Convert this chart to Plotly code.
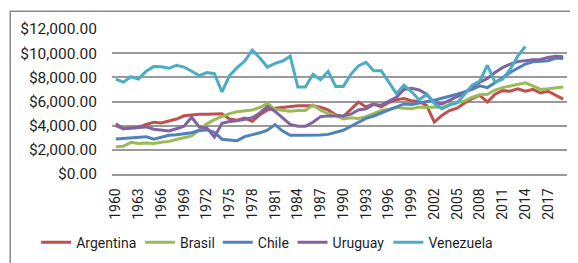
import plotly.graph_objects as go

years = list(range(1960, 2020))

argentina = [4010, 3740, 3800, 3850, 4100, 4290, 4230, 4360, 4550, 4820,
             4900, 4950, 4950, 4950, 4980, 4550, 4450, 4630, 4360, 4900,
             5300, 5450, 5530, 5600, 5640, 5640, 5650, 5530, 5300, 4900,
             4750, 5350, 5950, 5550, 5800, 5550, 5920, 6150, 6250, 6070,
             6000, 5660, 4300, 4850, 5250, 5450, 5880, 6230, 6500, 5960,
             6600, 6900, 6850, 7050, 6850, 7000, 6700, 6850, 6550, 6200]

brasil = [2250, 2300, 2620, 2520, 2560, 2520, 2620, 2700, 2850, 3000,
          3150, 3650, 4150, 4500, 4720, 5000, 5150, 5230, 5300, 5500,
          5850, 5350, 5300, 5200, 5250, 5250, 5700, 5280, 5000, 4850,
          4550, 4650, 4600, 4750, 5000, 5250, 5350, 5500, 5450, 5400,
          5550, 5500, 5550, 5500, 5750, 5900, 6050, 6350, 6550, 6600,
          6950, 7150, 7280, 7450, 7550, 7300, 7000, 7050, 7150, 7200]

chile = [2900, 2960, 3000, 3060, 3090, 2880, 3060, 3200, 3250, 3330,
         3410, 3600, 3650, 3450, 2880, 2820, 2760, 3090, 3220, 3410,
         3630, 4090, 3550, 3200, 3200, 3200, 3200, 3220, 3280, 3470,
         3620, 3950, 4300, 4600, 4800, 5050, 5250, 5550, 5800, 5750,
         5900, 6000, 6100, 6250, 6450, 6600, 6800, 7000, 7300, 7150,
         7550, 8000, 8400, 8750, 9100, 9280, 9320, 9380, 9600, 9550]

uruguay = [4150, 3750, 3800, 3830, 3900, 3700, 3650, 3560, 3750, 3950,
           4700, 3900, 3820, 3050, 4200, 4350, 4400, 4500, 4650, 5050,
           5600, 5180, 4630, 4100, 3950, 3950, 4280, 4750, 4800, 4800,
           4800, 4950, 5300, 5400, 5750, 5700, 6000, 6350, 7000, 7100,
           6950, 6600, 5900, 5800, 6100, 6400, 6700, 7200, 7600, 7900,
           8400, 8800, 9100, 9300, 9400, 9450, 9480, 9650, 9750, 9700]

venezuela = [7850, 7600, 8050, 7850, 8500, 8900, 8880, 8750, 9000, 8850,
             8500, 8150, 8400, 8300, 6800, 8150, 8800, 9350, 10250, 9600,
             8850, 9150, 9350, 9750, 7200, 7200, 8250, 7800, 8500, 7250,
             7250, 8250, 8950, 9250, 8550, 8550, 7600, 6650, 7350, 6800,
             6150, 6600, 5850, 5400, 5700, 5900, 6600, 7350, 7700, 9000,
             7600, 7850, 8650, 9750, 10550]

series = [
    ("Argentina", argentina, "#C0504D"),
    ("Brasil", brasil, "#9BBB59"),
    ("Chile", chile, "#4F81BD"),
    ("Uruguay", uruguay, "#8064A2"),
    ("Venezuela", venezuela, "#4BACC6"),
]

tick_years = list(range(1960, 2020, 3))

# plot area geometry (pixels)
L, R, T, B = 103, 19, 19, 96
W, H = 578, 263
PW, PH = W - L - R, H - T - B


def px_x(px):
    return (px - L) / PW


def px_y(py):
    return (H - B - py) / PH


FONT = dict(family="Roboto, Arial, sans-serif", size=14, color="#1f1f1f")
YFONT = dict(family="Roboto, Arial, sans-serif", size=15.5, color="#1f1f1f")

legend_starts = [38, 142, 220, 295, 391]  # pixel x where each legend line starts
legend_names = ["legend", "legend2", "legend3", "legend4", "legend5"]

fig = go.Figure()
for (name, vals, color), lg in zip(series, legend_names):
    fig.add_trace(go.Scatter(
        x=years[:len(vals)], y=vals, name=name, mode="lines",
        line=dict(color=color, width=3, shape="linear"),
        legend=lg,
    ))

layout_legends = {}
for lg, sx in zip(legend_names, legend_starts):
    layout_legends[lg] = dict(
        orientation="h", x=px_x(sx - 11), xanchor="left",
        y=px_y(237), yanchor="middle", font=FONT,
        bgcolor="rgba(0,0,0,0)", borderwidth=0, itemwidth=30,
    )

fig.update_layout(
    width=W, height=H,
    margin=dict(l=L, r=R, t=T, b=B, pad=0),
    paper_bgcolor="white", plot_bgcolor="white",
    font=FONT,
    showlegend=True,
    xaxis=dict(
        range=[1959.5, 2019.5], tickmode="array", tickvals=tick_years,
        ticktext=[str(y) for y in tick_years], tickangle=-90,
        showgrid=False, zeroline=False, showline=True, linecolor="#9a9a9a",
        linewidth=1.5, ticks="", ticklabelstandoff=7, tickfont=FONT,
    ),
    yaxis=dict(
        range=[0, 12000], tickmode="array",
        tickvals=[0, 2000, 4000, 6000, 8000, 10000, 12000],
        tickformat="$,.2f",
        showgrid=True, gridcolor="#9a9a9a", gridwidth=1.5,
        zeroline=False, showline=False, ticks="", ticklabelstandoff=14,
        tickfont=YFONT,
    ),
    shapes=[dict(type="rect", xref="paper", yref="paper",
                 x0=px_x(1), x1=px_x(576.5), y0=px_y(261.5), y1=px_y(1),
                 line=dict(color="#8a8a8a", width=1.5), fillcolor="rgba(0,0,0,0)",
                 layer="below")],
    **layout_legends,
)

fig.write_html("out.html")
